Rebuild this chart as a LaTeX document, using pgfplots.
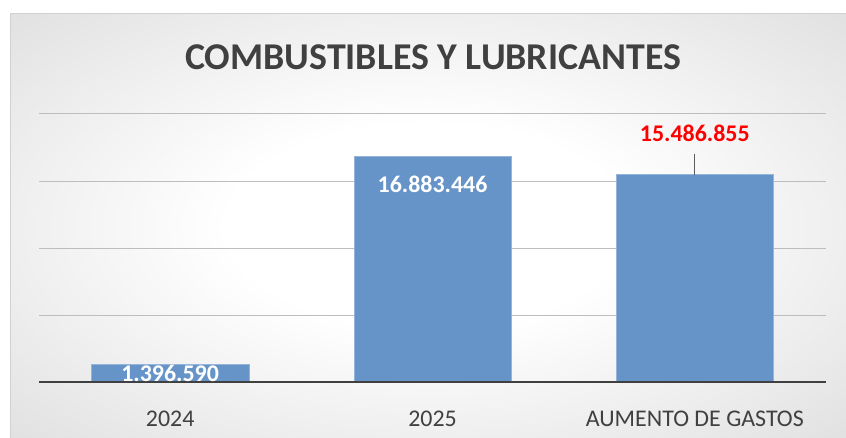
\documentclass[border=0pt]{standalone}
\usepackage{pgfplots}
\pgfplotsset{compat=1.18}
\usepackage{fontspec}
\setmainfont{Carlito}
\definecolor{barblue}{HTML}{6794C8}
\definecolor{txt}{HTML}{404040}
\definecolor{gridc}{HTML}{BDBDBD}
\pgfdeclareradialshading{bgshade}{\pgfpoint{0bp}{0bp}}{%
  color(0bp)=(white); color(12bp)=(white); color(50bp)=(black!19); color(72bp)=(black!26)}
\begin{document}
\begin{tikzpicture}[x=1bp,y=1bp]
\path[use as bounding box] (0,0) rectangle (846,438);
\fill[white] (0,0) rectangle (846,438);
\shade[shading=bgshade] (10,0) rectangle (846,424);
\draw[black!18, line width=1bp] (10,0) -- (10,424) -- (846,424);
\node[font=\bfseries\fontsize{38}{44}\selectfont, text=txt, inner sep=0pt] at (433,380.5) {COMBUSTIBLES Y LUBRICANTES};
\begin{axis}[
  at={(39bp,55bp)}, anchor=south west, scale only axis,
  width=787bp, height=269bp,
  xmin=-0.5, xmax=2.5, ymin=0, ymax=20000000,
  scaled y ticks=false,
  ytick={5000000,10000000,15000000,20000000}, yticklabels={},
  ymajorgrids, grid style={gridc, line width=1bp},
  axis line style={draw=none}, tick style={draw=none},
  xtick={0,1,2}, xticklabels={2024,2025,AUMENTO DE GASTOS},
  xticklabel style={font=\fontsize{24}{28}\selectfont, text=txt, anchor=center, inner sep=0pt, yshift=-32bp},
  ybar, bar width=0.6, bar shift=0pt,
  point meta=explicit symbolic,
  nodes near coords,
  every node near coord/.append style={font=\bfseries\fontsize{24}{28}\selectfont, inner sep=0pt},
]
\addplot[fill=barblue, draw=barblue!70!white,
  every node near coord/.append style={text=white, anchor=north, yshift=-1bp}]
  coordinates {(0,1396590) [1.396.590]};
\addplot[fill=barblue, draw=barblue!70!white,
  every node near coord/.append style={text=white, anchor=north, yshift=-20bp}]
  coordinates {(1,16883446) [16.883.446]};
\addplot[fill=barblue, draw=barblue!70!white,
  every node near coord/.append style={text=red, anchor=south, yshift=33bp}]
  coordinates {(2,15486855) [15.486.855]};
\draw[txt!85, line width=1.2bp] (axis cs:2,15486855) -- ++(0bp,21bp);
\draw[txt, line width=3bp] (axis cs:-0.5,0) -- (axis cs:2.5,0);
\end{axis}
\end{tikzpicture}
\end{document}
